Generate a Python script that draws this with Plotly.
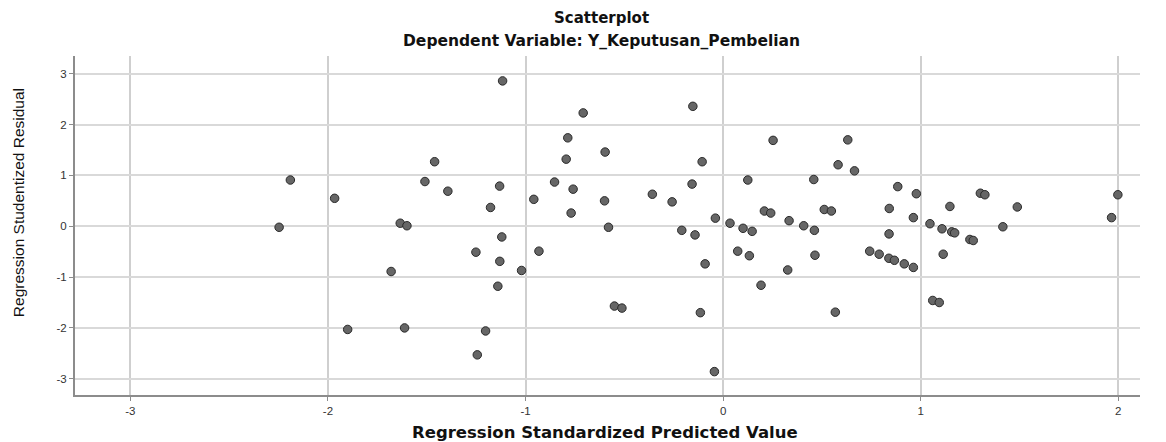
import plotly.graph_objects as go

predicted = [-2.19, -1.966, -2.247, -1.634, -1.60, -1.68, -1.90, -1.612, -1.509, -1.46,
             -1.393, -1.131, -1.116, -1.177, -1.12, -1.251, -1.13, -1.14, -1.202, -1.244,
             -1.020, -0.958, -0.932, -0.853, -0.794, -0.786, -0.759, -0.769, -0.708, -0.597,
             -0.600, -0.58, -0.55, -0.512, -0.358, -0.258, -0.209, -0.157, -0.153, -0.142,
             -0.106, -0.091, -0.115, -0.039, -0.044, 0.035, 0.101, 0.074, 0.125, 0.147,
             0.133, 0.192, 0.209, 0.241, 0.253, 0.334, 0.327, 0.408, 0.459, 0.462,
             0.465, 0.512, 0.548, 0.582, 0.568, 0.631, 0.665, 0.742, 0.79, 0.839,
             0.841, 0.840, 0.867, 0.884, 0.917, 0.963, 0.963, 0.978, 1.047, 1.061,
             1.094, 1.108, 1.114, 1.148, 1.157, 1.172, 1.249, 1.266, 1.302, 1.325,
             1.416, 1.489, 1.966, 1.998]
residual = [0.91, 0.55, -0.02, 0.06, 0.01, -0.89, -2.03, -2.00, 0.88, 1.27,
            0.69, 0.79, 2.86, 0.37, -0.21, -0.51, -0.69, -1.18, -2.06, -2.53,
            -0.87, 0.53, -0.49, 0.87, 1.32, 1.74, 0.73, 0.26, 2.23, 1.46,
            0.50, -0.02, -1.57, -1.61, 0.63, 0.48, -0.08, 0.83, 2.36, -0.17,
            1.27, -0.74, -1.70, 0.16, -2.86, 0.06, -0.04, -0.49, 0.91, -0.10,
            -0.58, -1.16, 0.30, 0.26, 1.69, 0.11, -0.86, 0.01, 0.92, -0.08,
            -0.57, 0.33, 0.30, 1.21, -1.69, 1.70, 1.09, -0.49, -0.55, -0.63,
            0.35, -0.15, -0.67, 0.78, -0.74, 0.17, -0.81, 0.64, 0.05, -1.46,
            -1.50, -0.05, -0.55, 0.39, -0.11, -0.13, -0.26, -0.28, 0.65, 0.62,
            -0.01, 0.38, 0.17, 0.62]

x_ticks = [-3, -2, -1, 0, 1, 2]
y_ticks = [-3, -2, -1, 0, 1, 2, 3]

fig = go.Figure()
fig.add_trace(go.Scatter(
    x=predicted, y=residual, mode="markers",
    marker=dict(size=8.5, color="#666666", line=dict(color="#2a2a2a", width=1)),
    showlegend=False,
))

font = "Liberation Sans, Arial, sans-serif"
wide = "DejaVu Sans, Verdana, sans-serif"
fig.update_layout(
    width=1166, height=442,
    margin=dict(l=67, r=34, t=48, b=55),
    paper_bgcolor="white", plot_bgcolor="white",
    font=dict(family=font, color="#222"),
    xaxis=dict(range=[-3.28, 2.11], tickvals=x_ticks, ticktext=[str(v) for v in x_ticks],
               showgrid=True, gridcolor="#cfcfcf", gridwidth=2, zeroline=False,
               showline=True, linecolor="#8c8c8c", linewidth=2,
               ticks="outside", ticklen=4, tickcolor="#8c8c8c",
               tickfont=dict(size=11.5, color="#333")),
    yaxis=dict(range=[-3.32, 3.35], tickvals=y_ticks, ticktext=[str(v) for v in y_ticks],
               showgrid=True, gridcolor="#d9d9d9", gridwidth=1.5, zeroline=False,
               showline=True, linecolor="#8c8c8c", linewidth=2,
               ticks="outside", ticklen=4, tickcolor="#8c8c8c",
               tickfont=dict(size=11.5, color="#333")),
    annotations=[
        dict(text="<b>Scatterplot</b>", x=0.494, y=1.112, xref="paper", yref="paper",
             yanchor="middle", showarrow=False, font=dict(family=wide, size=15, color="#111")),
        dict(text="<b>Dependent Variable: Y_Keputusan_Pembelian</b>", x=0.494, y=1.045,
             xref="paper", yref="paper", yanchor="middle", showarrow=False,
             font=dict(family=wide, size=15.5, color="#111")),
        dict(text="<b>Regression Standardized Predicted Value</b>", x=0.498, y=-0.111,
             xref="paper", yref="paper", yanchor="middle", showarrow=False,
             font=dict(family=wide, size=16.5, color="#111")),
        dict(text="Regression Studentized Residual", x=-0.0535, y=0.566, textangle=-90,
             xref="paper", yref="paper", xanchor="center", yanchor="middle", showarrow=False,
             font=dict(size=15.5, color="#111")),
    ],
)

fig.write_html("out.html")
